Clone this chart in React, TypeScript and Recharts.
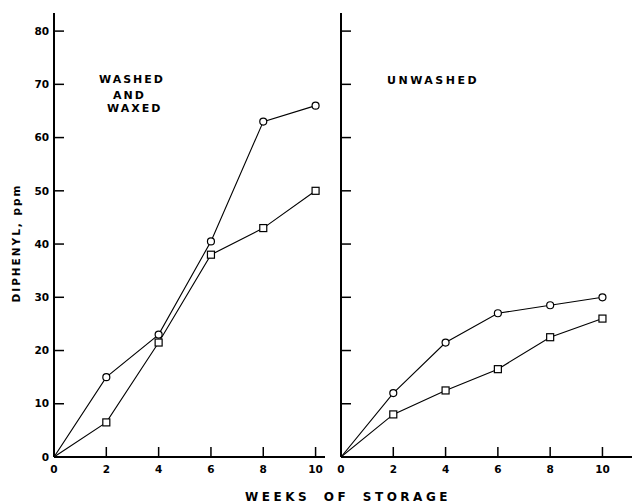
import React from 'react';
import { LineChart, Line, XAxis, YAxis } from 'recharts';

const weeks = [0, 2, 4, 6, 8, 10];
const washedCircle = [0, 15, 23, 40.5, 63, 66];
const washedSquare = [0, 6.5, 21.5, 38, 43, 50];
const unwashedCircle = [0, 12, 21.5, 27, 28.5, 30];
const unwashedSquare = [0, 8, 12.5, 16.5, 22.5, 26];
const xTicks = [0, 2, 4, 6, 8, 10];
const yTicks = [0, 10, 20, 30, 40, 50, 60, 70, 80];

const washedData = weeks.map((w, i) => ({ week: w, circle: washedCircle[i], square: washedSquare[i] }));
const unwashedData = weeks.map((w, i) => ({ week: w, circle: unwashedCircle[i], square: unwashedSquare[i] }));

const FONT = '"DejaVu Sans", sans-serif';
const tickStyle = { fill: '#000', fontSize: 10.5, fontFamily: FONT, fontWeight: 'bold' as const };

const CircleDot = (props: any) => {
  const { cx, cy, index } = props;
  if (index === 0) return <g key={`c${index}`} />;
  return <circle key={`c${index}`} cx={cx} cy={cy} r={3.5} fill="#fff" stroke="#000" strokeWidth={1.2} />;
};
const SquareDot = (props: any) => {
  const { cx, cy, index } = props;
  if (index === 0) return <g key={`s${index}`} />;
  return <rect key={`s${index}`} x={cx - 3.5} y={cy - 3.5} width={7} height={7} fill="#fff" stroke="#000" strokeWidth={1.2} />;
};

const Panel = ({ data, left, width, yWidth, right, xMax, showY }: any) => (
  <div style={{ position: 'absolute', left, top: 0 }}>
    <LineChart width={width} height={504} data={data} margin={{ top: 13, right, bottom: 17, left: 0 }}>
      <XAxis
        dataKey="week"
        type="number"
        domain={[0, xMax]}
        ticks={xTicks}
        height={30}
        tickSize={-10}
        tickMargin={19}
        tick={tickStyle}
        axisLine={{ stroke: '#000', strokeWidth: 2 }}
        tickLine={{ stroke: '#000', strokeWidth: 1.5 }}
        allowDataOverflow
      />
      <YAxis
        type="number"
        domain={[0, 83.4]}
        ticks={yTicks}
        width={yWidth}
        tickSize={-10}
        tickMargin={15}
        tick={tickStyle}
        tickFormatter={(v: number) => (showY ? String(v) : '')}
        axisLine={{ stroke: '#000', strokeWidth: 2 }}
        tickLine={{ stroke: '#000', strokeWidth: 1.5 }}
        allowDataOverflow
      />
      <Line dataKey="circle" stroke="#000" strokeWidth={1.1} dot={CircleDot} isAnimationActive={false} />
      <Line dataKey="square" stroke="#000" strokeWidth={1.1} dot={SquareDot} isAnimationActive={false} />
    </LineChart>
  </div>
);

const labelStyle: React.CSSProperties = {
  position: 'absolute',
  fontFamily: FONT,
  fontSize: 11,
  fontWeight: 'bold',
  color: '#000',
  letterSpacing: 2,
  whiteSpace: 'nowrap',
  lineHeight: '14px',
};

export default function App() {
  return (
    <div style={{ position: 'fixed', left: 0, top: 0, width: 632, height: 504, background: '#fff', overflow: 'hidden' }}>
      <Panel data={washedData} left={0} width={340} yWidth={54} right={15} xMax={10.36} showY={true} />
      <Panel data={unwashedData} left={300} width={332} yWidth={41} right={0} xMax={11.13} showY={false} />
      <div style={{ ...labelStyle, left: 99, top: 73 }}>WASHED</div>
      <div style={{ ...labelStyle, left: 113, top: 89 }}>AND</div>
      <div style={{ ...labelStyle, left: 107, top: 102 }}>WAXED</div>
      <div style={{ ...labelStyle, left: 387, top: 74, letterSpacing: 2.5 }}>UNWASHED</div>
      <div style={{ ...labelStyle, left: 245, top: 490, fontSize: 12, letterSpacing: 3.5, wordSpacing: 6 }}>WEEKS OF STORAGE</div>
      <div
        style={{
          ...labelStyle,
          left: 16,
          top: 243,
          transform: 'translate(-50%, -50%) rotate(-90deg)',
          letterSpacing: 2,
          fontSize: 10.5,
        }}
      >
        DIPHENYL, ppm
      </div>
    </div>
  );
}
